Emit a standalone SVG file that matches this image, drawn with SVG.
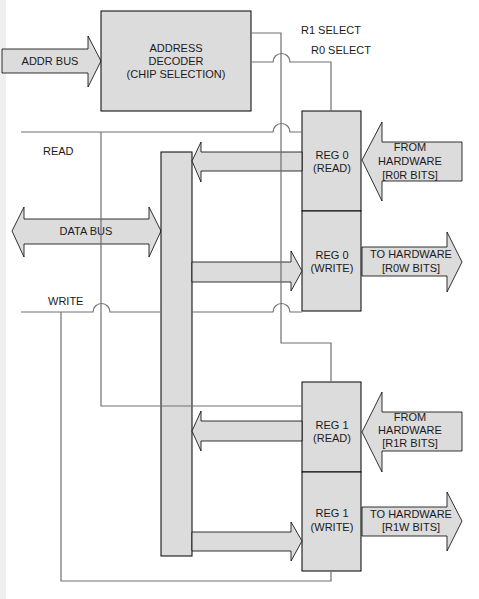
<svg xmlns="http://www.w3.org/2000/svg" width="479" height="599" viewBox="0 0 479 599">
<style>
.box{fill:#dcdcdc;stroke:#000;stroke-width:1}
.arr{fill:#dcdcdc;stroke:#000;stroke-width:0.8;stroke-linejoin:miter}
.wire{fill:none;stroke:#707070;stroke-width:1.2}
text{font-family:"Liberation Sans",Arial,sans-serif;font-size:11px;fill:#1a1a1a}
.c{text-anchor:middle}
</style>
<rect x="0" y="0" width="479" height="599" fill="#fff"/>
<rect x="0" y="0" width="6" height="599" fill="#efefef"/>

<g id="addr-bus">
<polygon class="arr" points="2,49 88,49 88,36 101,61 88,87 88,73 2,73"/>
<text class="c" x="50" y="65">ADDR BUS</text>
</g>
<g id="decoder">
<rect class="box" x="101" y="11" width="150" height="100"/>
<text class="c" x="176" y="52">ADDRESS</text>
<text class="c" x="176" y="65">DECODER</text>
<text class="c" x="176" y="78">(CHIP SELECTION)</text>
</g>
<g id="data-bus">
<polygon class="arr" points="12,231 24,207 24,219 149,219 149,207 161,231 149,257 149,244 24,244 24,257"/>
<text class="c" x="86" y="235">DATA BUS</text>
</g>
<g id="bus-bar">
<rect class="box" x="161" y="152" width="31" height="404"/>
</g>
<g id="reg0-read">
<rect class="box" x="302" y="111" width="59" height="100"/>
<text class="c" x="332" y="159">REG 0</text>
<text class="c" x="332" y="172">(READ)</text>
</g>
<g id="reg0-write">
<rect class="box" x="302" y="211" width="59" height="100"/>
<text class="c" x="332" y="259">REG 0</text>
<text class="c" x="332" y="272">(WRITE)</text>
</g>
<g id="reg1-read">
<rect class="box" x="302" y="382" width="59" height="90"/>
<text class="c" x="332" y="429">REG 1</text>
<text class="c" x="332" y="442">(READ)</text>
</g>
<g id="reg1-write">
<rect class="box" x="302" y="472" width="59" height="99"/>
<text class="c" x="332" y="517">REG 1</text>
<text class="c" x="332" y="531">(WRITE)</text>
</g>
<g id="hw-r0r">
<polygon class="arr" points="462,142 382,142 382,122 362,160 382,201 382,181 462,181"/>
<text class="c" x="410" y="151">FROM</text>
<text class="c" x="410" y="165">HARDWARE</text>
<text class="c" x="410" y="179">[R0R BITS]</text>
</g>
<g id="hw-r0w">
<polygon class="arr" points="362,247 447,247 447,232 462,262 447,292 447,276 362,276"/>
<text class="c" x="411" y="258">TO HARDWARE</text>
<text class="c" x="411" y="272">[R0W BITS]</text>
</g>
<g id="hw-r1r">
<polygon class="arr" points="462,412 382,412 382,392 362,432 382,472 382,451 462,451"/>
<text class="c" x="410" y="421">FROM</text>
<text class="c" x="410" y="434">HARDWARE</text>
<text class="c" x="410" y="447">[R1R BITS]</text>
</g>
<g id="hw-r1w">
<polygon class="arr" points="362,507 447,507 447,492 462,521 447,551 447,536 362,536"/>
<text class="c" x="411" y="518">TO HARDWARE</text>
<text class="c" x="411" y="531">[R1W BITS]</text>
</g>
<g id="bus-arrows">
<polygon class="arr" points="302,152 201,152 201,142 192,161 201,182 201,171 302,171"/>
<polygon class="arr" points="192,262 291,262 291,251 302,271 291,291 291,282 192,282"/>
<polygon class="arr" points="302,421 201,421 201,411 192,431 201,451 201,441 302,441"/>
<polygon class="arr" points="192,532 291,532 291,522 302,541 291,561 291,551 192,551"/>
</g>
<g id="connectors">
<path class="wire" d="M251,33 H281 V343 H331 V382"/>
<path class="wire" d="M251,62 H273 A8.5,8.5 0 0 1 290,62 H331 V111"/>
<path class="wire" d="M21,132 H273 A8.5,8.5 0 0 1 290,132 H302"/>
<path class="wire" d="M101,132 V406 H302"/>
<path class="wire" d="M21,312 H93 A8.5,8.5 0 0 1 110,312 H161 M192,312 H273 A8.5,8.5 0 0 1 290,312 H302"/>
<path class="wire" d="M61,312 V581 H331 V571"/>
</g>
<g id="labels">
<text x="301" y="34">R1 SELECT</text>
<text x="311" y="54">R0 SELECT</text>
<text x="43" y="155">READ</text>
<text x="48" y="305">WRITE</text>
</g>
</svg>
